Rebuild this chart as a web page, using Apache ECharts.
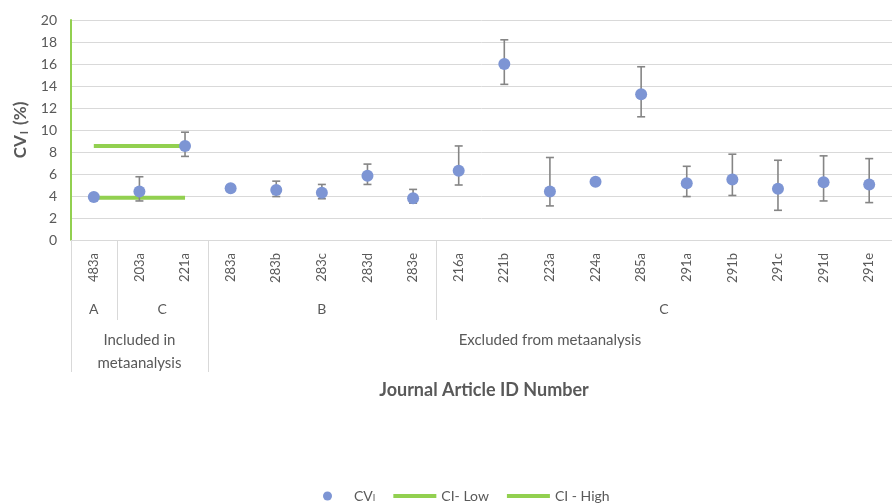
<!DOCTYPE html>
<html>
<head>
<meta charset="utf-8">
<script src="https://cdn.jsdelivr.net/npm/echarts@6/dist/echarts.min.js"></script>
<style>
  html, body { margin: 0; padding: 0; background: #ffffff; }
  #chart { width: 892px; height: 503px; }
</style>
</head>
<body>
<div id="chart"></div>
<script>
// Journal article IDs along the x axis
const categories = ['483a', '203a', '221a', '283a', '283b', '283c', '283d', '283e',
  '216a', '221b', '223a', '224a', '285a', '291a', '291b', '291c', '291d', '291e'];

// Within-subject coefficient of variation (%) per article
const cvValues = [3.9, 4.4, 8.55, 4.7, 4.55, 4.3, 5.85, 3.8,
  6.3, 16.0, 4.4, 5.3, 13.25, 5.15, 5.5, 4.65, 5.25, 5.05];

// Error bar bounds (null where the article reports none)
const errLow = [null, 3.55, 7.6, null, 3.95, 3.75, 5.05, 3.35,
  5.0, 14.15, 3.1, null, 11.2, 3.95, 4.05, 2.7, 3.55, 3.4];
const errHigh = [null, 5.75, 9.8, null, 5.35, 5.05, 6.9, 4.6,
  8.55, 18.2, 7.5, null, 15.75, 6.7, 7.8, 7.25, 7.65, 7.4];

// Pooled confidence interval across the included articles
const ciLowValues = [3.85, 3.85, 3.85];
const ciHighValues = [8.55, 8.55, 8.55];

// Y axis ticks
const yTicks = { min: 0, max: 20, step: 2 };

// Grouping rows under the article IDs
const groupLevel1 = [
  { label: 'A', from: 0, to: 0 },
  { label: 'C', from: 1, to: 2 },
  { label: 'B', from: 3, to: 7 },
  { label: 'C', from: 8, to: 17 }
];
const groupLevel2 = [
  { label: 'Included in\nmetaanalysis', from: 0, to: 2 },
  { label: 'Excluded from metaanalysis', from: 3, to: 17 }
];

const FONT = 'Lato, "Open Sans", sans-serif';
const TEXT_GRAY = '#595959';
const GREEN = '#92d050';
const DOT = '#7d95d4';
const LINE_GRAY = '#d9d9d9';

const pad = (arr) => categories.map((_, i) => (i < arr.length ? arr[i] : null));

const chart = echarts.init(document.getElementById('chart'), null, { renderer: 'canvas' });

const option = {
  animation: false,
  backgroundColor: '#ffffff',
  textStyle: { fontFamily: FONT },
  grid: { left: 71, top: 20, right: -7, bottom: 263, containLabel: false },
  xAxis: {
    type: 'category',
    data: categories,
    boundaryGap: true,
    axisLine: { show: true, lineStyle: { color: LINE_GRAY, width: 1 } },
    axisTick: { show: false },
    axisLabel: {
      rotate: 90,
      margin: 13,
      fontSize: 13,
      color: TEXT_GRAY,
      fontFamily: FONT,
      interval: 0
    },
    splitLine: { show: false }
  },
  yAxis: {
    type: 'value',
    min: yTicks.min,
    max: yTicks.max,
    interval: yTicks.step,
    name: '{a|CV}{s|I}{a| (%)}',
    nameLocation: 'middle',
    nameGap: 38,
    nameRotate: 90,
    nameTextStyle: {
      rich: {
        a: { fontSize: 17, fontWeight: 'bold', color: TEXT_GRAY, fontFamily: FONT },
        s: { fontSize: 11, fontWeight: 'bold', color: TEXT_GRAY, fontFamily: FONT, padding: [7, 2, 0, 1] }
      }
    },
    axisLine: { show: true, lineStyle: { color: GREEN, width: 2 } },
    axisTick: { show: false },
    axisLabel: { fontSize: 14, color: TEXT_GRAY, margin: 14, fontFamily: FONT },
    splitLine: { show: true, lineStyle: { color: LINE_GRAY, width: 1 } }
  },
  legend: {
    top: 484,
    left: 318,
    itemWidth: 43,
    itemHeight: 9,
    itemGap: 18,
    textStyle: {
      fontSize: 14, color: TEXT_GRAY, fontFamily: FONT,
      rich: {
        a: { fontSize: 14, color: TEXT_GRAY, fontFamily: FONT },
        s: { fontSize: 9, color: TEXT_GRAY, fontFamily: FONT, padding: [5, 0, 0, 0] }
      }
    },
    formatter: (name) => (name === 'CVI' ? '{a|CV}{s|I}' : name),
    data: [
      { name: 'CVI', icon: 'circle' },
      { name: 'CI- Low', icon: 'path://M0,0H43V4H0Z' },
      { name: 'CI - High', icon: 'path://M0,0H43V4H0Z' }
    ]
  },
  series: [
    {
      name: 'CI- Low',
      type: 'line',
      data: pad(ciLowValues),
      symbol: 'none',
      z: 2,
      lineStyle: { color: GREEN, width: 4, cap: 'butt' },
      itemStyle: { color: GREEN }
    },
    {
      name: 'CI - High',
      type: 'line',
      data: pad(ciHighValues),
      symbol: 'none',
      z: 2,
      lineStyle: { color: GREEN, width: 4, cap: 'butt' },
      itemStyle: { color: GREEN }
    },
    {
      name: 'errorBars',
      type: 'custom',
      z: 3,
      data: categories.map((c, i) => [i, errLow[i], errHigh[i]]),
      encode: { x: 0, y: [1, 2] },
      renderItem: (params, api) => {
        const lo = api.value(1);
        const hi = api.value(2);
        if (lo == null || hi == null || isNaN(lo) || isNaN(hi)) return null;
        const idx = api.value(0);
        const top = api.coord([idx, hi]);
        const bot = api.coord([idx, lo]);
        const cap = 4;
        const style = { stroke: '#858585', lineWidth: 1.6, fill: null };
        return {
          type: 'group',
          children: [
            { type: 'line', shape: { x1: top[0], y1: top[1], x2: bot[0], y2: bot[1] }, style },
            { type: 'line', shape: { x1: top[0] - cap, y1: top[1], x2: top[0] + cap, y2: top[1] }, style },
            { type: 'line', shape: { x1: bot[0] - cap, y1: bot[1], x2: bot[0] + cap, y2: bot[1] }, style }
          ]
        };
      }
    },
    {
      name: 'CVI',
      type: 'scatter',
      z: 4,
      data: cvValues,
      symbol: 'circle',
      symbolSize: 12,
      itemStyle: { color: DOT, opacity: 1 }
    }
  ]
};

chart.setOption(option);

// Category group rows and separators, placed from the axis scale
function drawGroups() {
  const c0 = chart.convertToPixel({ xAxisIndex: 0 }, 0);
  const c1 = chart.convertToPixel({ xAxisIndex: 0 }, 1);
  const band = c1 - c0;
  const y0 = chart.convertToPixel({ yAxisIndex: 0 }, 0);
  const leftEdge = (i) => chart.convertToPixel({ xAxisIndex: 0 }, i) - band / 2;
  const rightEdge = (i) => chart.convertToPixel({ xAxisIndex: 0 }, i) + band / 2;

  const elements = [];
  const sepStyle = { stroke: LINE_GRAY, lineWidth: 1 };
  const shortBottom = y0 + 80;
  const longBottom = y0 + 132;

  groupLevel1.forEach((g, k) => {
    const xl = leftEdge(g.from);
    const xr = rightEdge(g.to);
    elements.push({
      type: 'text',
      x: (xl + xr) / 2,
      y: y0 + 69,
      style: { text: g.label, fill: TEXT_GRAY, font: '14px ' + FONT, align: 'center', verticalAlign: 'middle' },
      silent: true
    });
    if (k > 0) {
      const isOuter = groupLevel2.some((h) => h.from === g.from);
      elements.push({
        type: 'line',
        shape: { x1: Math.round(xl) + 0.5, y1: y0, x2: Math.round(xl) + 0.5, y2: isOuter ? longBottom : shortBottom },
        style: sepStyle,
        silent: true
      });
    }
  });

  elements.push({
    type: 'line',
    shape: { x1: Math.round(leftEdge(0)) + 0.5, y1: y0, x2: Math.round(leftEdge(0)) + 0.5, y2: longBottom },
    style: sepStyle,
    silent: true
  });

  groupLevel2.forEach((g) => {
    const xl = leftEdge(g.from);
    const xr = rightEdge(g.to);
    elements.push({
      type: 'text',
      x: (xl + xr) / 2,
      y: y0 + 89,
      style: { text: g.label, fill: TEXT_GRAY, font: '15px ' + FONT, align: 'center', verticalAlign: 'top', lineHeight: 23 },
      silent: true
    });
  });

  elements.push({
    type: 'text',
    x: 484,
    y: y0 + 150,
    style: { text: 'Journal Article ID Number', fill: TEXT_GRAY, font: 'bold 18px ' + FONT, align: 'center', verticalAlign: 'middle' },
    silent: true
  });

  chart.setOption({ graphic: { elements } });
}

drawGroups();
</script>
</body>
</html>
